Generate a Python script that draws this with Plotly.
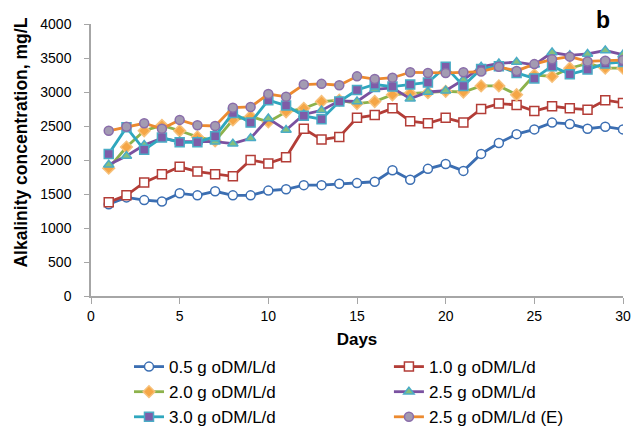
import plotly.graph_objects as go

days = list(range(1, 31))

names = ["0.5 g oDM/L/d", "1.0 g oDM/L/d", "2.0 g oDM/L/d",
         "2.5 g oDM/L/d", "3.0 g oDM/L/d", "2.5 g oDM/L/d (E)"]

alk_05 = [1350, 1450, 1410, 1390, 1510, 1480, 1540, 1480, 1480, 1550,
          1570, 1630, 1630, 1650, 1660, 1680, 1850, 1710, 1870, 1940,
          1840, 2090, 2250, 2380, 2450, 2550, 2530, 2460, 2490, 2450]
alk_10 = [1380, 1480, 1670, 1790, 1900, 1830, 1790, 1760, 2000, 1950,
          2040, 2460, 2300, 2340, 2620, 2660, 2760, 2570, 2540, 2620,
          2550, 2750, 2830, 2810, 2720, 2790, 2760, 2740, 2880, 2840]
alk_20 = [1880, 2190, 2430, 2510, 2430, 2340, 2280, 2590, 2640, 2560,
          2710, 2760, 2860, 2880, 2830, 2860, 2960, 2980, 2990, 3010,
          3000, 3090, 3090, 2960, 3250, 3230, 3350, 3420, 3350, 3350]
alk_25 = [1930, 2060, 2220, 2320, 2270, 2270, 2270, 2240, 2320, 2610,
          2440, 2670, 2730, 2870, 2860, 3040, 3060, 2900, 3000, 3020,
          3180, 3370, 3420, 3440, 3400, 3580, 3540, 3560, 3610, 3550]
alk_30 = [2090, 2480, 2150, 2330, 2260, 2260, 2350, 2690, 2550, 2880,
          2800, 2650, 2600, 2860, 3030, 3110, 3080, 3110, 3140, 3370,
          3090, 3340, 3380, 3280, 3200, 3380, 3260, 3330, 3420, 3440]
alk_25e = [2430, 2490, 2540, 2460, 2590, 2510, 2500, 2770, 2780, 2970,
           2930, 3110, 3120, 3100, 3230, 3190, 3210, 3290, 3280, 3280,
           3290, 3300, 3370, 3310, 3410, 3480, 3520, 3450, 3460, 3470]

series = [alk_05, alk_10, alk_20, alk_25, alk_30, alk_25e]
legend_ids = ["legend", "legend2", "legend", "legend2", "legend", "legend2"]

styles = [
    dict(line="#3B6EB2", symbol="circle", fill="#FFFFFF", mline="#3B6EB2"),
    dict(line="#B33D37", symbol="square", fill="#FFFFFF", mline="#B33D37"),
    dict(line="#8DB24C", symbol="diamond", fill="#F5A646", mline="#F7C07A"),
    dict(line="#7A51A0", symbol="triangle-up", fill="#86C07C", mline="#4BACC6"),
    dict(line="#2FA7BE", symbol="square", fill="#7E5CA8", mline="#4BACC6"),
    dict(line="#EC8A30", symbol="circle", fill="#A39BB2", mline="#8A6DAA"),
]

fig = go.Figure()
for name, vals, st, lg in zip(names, series, styles, legend_ids):
    fig.add_trace(go.Scatter(
        x=days, y=vals, name=name, mode="lines+markers", legend=lg,
        line=dict(color=st["line"], width=2.8),
        marker=dict(symbol=st["symbol"], size=9, color=st["fill"],
                    line=dict(color=st["mline"], width=1.5)),
    ))

FONT = "Liberation Sans, Arial, sans-serif"
axis_font = dict(family=FONT, size=14, color="#000000")
legend_font = dict(family=FONT, size=17, color="#000000")

fig.update_layout(
    width=633, height=419,
    margin=dict(l=83, r=18, t=16, b=131, autoexpand=False),
    paper_bgcolor="white", plot_bgcolor="white",
    font=dict(family=FONT, color="#000000"),
    showlegend=True,
    legend=dict(
        orientation="v", x=0.0714, y=-0.195, xanchor="left", yanchor="top",
        font=legend_font, tracegroupgap=0, itemwidth=30, bgcolor="rgba(0,0,0,0)",
    ),
    legend2=dict(
        orientation="v", x=0.560, y=-0.195, xanchor="left", yanchor="top",
        font=legend_font, tracegroupgap=0, itemwidth=30, bgcolor="rgba(0,0,0,0)",
    ),
    xaxis=dict(
        range=[0, 30], tickvals=[0, 5, 10, 15, 20, 25, 30],
        showgrid=False, zeroline=False, showline=True, linecolor="#A6A6A6",
        linewidth=1.5, ticks="outside", ticklen=6, tickcolor="#A6A6A6",
        tickfont=axis_font, ticklabelstandoff=0,
        title=dict(text="<b>Days</b>", font=dict(family=FONT, size=17), standoff=11),
    ),
    yaxis=dict(
        range=[0, 4000], dtick=500,
        showgrid=False, zeroline=False, showline=True, linecolor="#A6A6A6",
        linewidth=1.5, ticks="outside", ticklen=5, tickcolor="#A6A6A6",
        tickfont=axis_font, ticklabelstandoff=10,
    ),
    annotations=[
        dict(text="<b>Alkalinity concentration, mg/L</b>", xref="paper", yref="paper",
             x=-0.1316, y=0.564, xanchor="center", yanchor="middle", textangle=-90,
             showarrow=False, font=dict(family=FONT, size=17.5, color="#000000")),
        dict(text="<b>b</b>", xref="paper", yref="paper", x=0.9625, y=1.0147,
             xanchor="center", yanchor="middle", showarrow=False, borderpad=0,
             font=dict(family=FONT, size=23, color="#000000")),
    ],
)

fig.write_html("out.html")
